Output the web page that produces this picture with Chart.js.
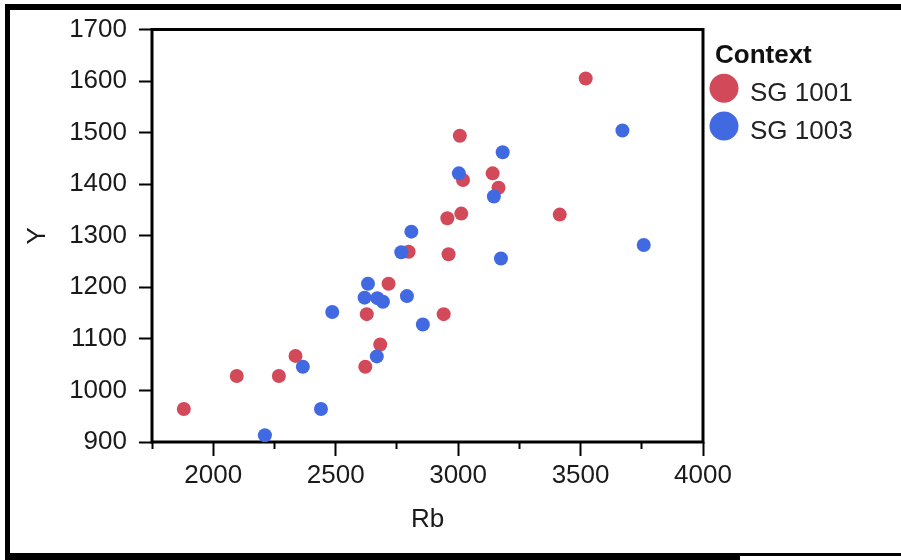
<!DOCTYPE html>
<html>
<head>
<meta charset="utf-8">
<script src="https://cdn.jsdelivr.net/npm/chart.js@4"></script>
<style>
  html, body { margin: 0; padding: 0; background: #fff; }
</style>
</head>
<body>
<canvas id="myChart" width="901" height="560"></canvas>
<script>
// values
const contexts = ['SG 1001', 'SG 1003'];
const contextColors = ['#d24a5a', '#4169e1'];

const sg1001Rb = [1880, 2096, 2268, 2336, 2621, 2627, 2682, 2716, 2798, 2941, 2956, 2961, 3007, 3013, 3020, 3141, 3165, 3415, 3521];
const sg1001Y  = [ 964, 1028, 1028, 1067, 1046, 1148, 1089, 1207, 1269, 1148, 1334, 1264, 1494, 1343, 1408, 1421, 1393, 1341, 1605];

const sg1003Rb = [2211, 2366, 2440, 2486, 2618, 2632, 2668, 2670, 2693, 2768, 2791, 2809, 2856, 3003, 3146, 3175, 3182, 3671, 3758];
const sg1003Y  = [ 913, 1046,  964, 1152, 1180, 1207, 1066, 1179, 1172, 1268, 1183, 1308, 1128, 1421, 1376, 1256, 1462, 1504, 1282];

const xTicks = [2000, 2500, 3000, 3500, 4000];
const xMinorTicks = [1750, 2250, 2750, 3250, 3750];
const yTicks = [900, 1000, 1100, 1200, 1300, 1400, 1500, 1600, 1700];

const FONT = "'Liberation Sans', Arial, sans-serif";
Chart.defaults.font.family = FONT;

function toPoints(xs, ys) {
    return xs.map((x, i) => ({x: x, y: ys[i]}));
}

// white page with the thick frame round it
const pageFrame = {
    id: 'pageFrame',
    beforeDraw(chart) {
        const ctx = chart.ctx, w = chart.width;
        ctx.save();
        ctx.fillStyle = '#fff';
        ctx.fillRect(0, 0, w, chart.height);
        ctx.fillStyle = '#000';
        ctx.fillRect(5, 4, w - 5, 6);
        ctx.fillRect(5, 4, 5, 555);
        ctx.fillRect(5, 553, 735, 7);
        ctx.fillRect(740, 553, w - 740, 3);
        ctx.restore();
    }
};

// box round the plot area
const plotBox = {
    id: 'plotBox',
    beforeDatasetsDraw(chart) {
        const a = chart.chartArea, ctx = chart.ctx;
        ctx.save();
        ctx.strokeStyle = '#000';
        ctx.lineWidth = 3;
        ctx.strokeRect(a.left, a.top, a.right - a.left, a.bottom - a.top);
        ctx.restore();
    }
};

// legend with a title, drawn from the datasets
const contextLegend = {
    id: 'contextLegend',
    afterDraw(chart) {
        const ctx = chart.ctx;
        const left = chart.chartArea.right + 12;
        ctx.save();
        ctx.textBaseline = 'alphabetic';
        ctx.textAlign = 'left';
        ctx.fillStyle = '#111';
        ctx.font = 'bold 26px ' + FONT;
        ctx.fillText('Context', left, 63);
        chart.data.datasets.forEach((ds, i) => {
            const cy = 88.3 + i * 37.7;
            ctx.beginPath();
            ctx.arc(left + 9, cy, 14.5, 0, Math.PI * 2);
            ctx.fillStyle = ds.backgroundColor;
            ctx.fill();
            ctx.fillStyle = '#222';
            ctx.font = '26px ' + FONT;
            ctx.fillText(ds.label, left + 35, cy + 12.7);
        });
        ctx.restore();
    }
};

const plain = v => String(v);

const ctx = document.getElementById('myChart').getContext('2d');

const myChart = new Chart(ctx, {
    type: 'scatter',
    data: {
        datasets: [{
            label: contexts[0],
            data: toPoints(sg1001Rb, sg1001Y),
            backgroundColor: contextColors[0],
            borderColor: contextColors[0],
            borderWidth: 0,
            pointRadius: 7,
            xAxisID: 'x',
            yAxisID: 'y',
            order: 1
        }, {
            label: contexts[1],
            data: toPoints(sg1003Rb, sg1003Y),
            backgroundColor: contextColors[1],
            borderColor: contextColors[1],
            borderWidth: 0,
            pointRadius: 7,
            xAxisID: 'x',
            yAxisID: 'y',
            order: 0
        }]
    },
    plugins: [pageFrame, plotBox, contextLegend],
    options: {
        responsive: false,
        animation: false,
        layout: {
            padding: {left: 12, top: 29.5, right: 198, bottom: 0}
        },
        plugins: {
            legend: {display: false},
            tooltip: {enabled: false}
        },
        scales: {
            x: {
                type: 'linear',
                position: 'bottom',
                min: 1750,
                max: 4000,
                weight: 1,
                afterBuildTicks: s => { s.ticks = xTicks.map(v => ({value: v})); },
                afterFit: s => { s.height = 118; },
                grid: {drawOnChartArea: false, tickLength: 14, tickColor: '#000', tickWidth: 2},
                border: {display: false},
                ticks: {color: '#1a1a1a', font: {size: 26}, padding: 4, maxRotation: 0, autoSkip: false, callback: plain},
                title: {display: true, text: 'Rb', color: '#1a1a1a', font: {size: 26}, padding: {top: 0, bottom: 25}}
            },
            xMinor: {
                type: 'linear',
                position: 'bottom',
                min: 1750,
                max: 4000,
                weight: 0,
                afterBuildTicks: s => { s.ticks = xMinorTicks.map(v => ({value: v})); },
                afterFit: s => { s.height = 0; },
                grid: {drawOnChartArea: false, tickLength: 7, tickColor: '#000', tickWidth: 2},
                border: {display: false},
                ticks: {display: false}
            },
            y: {
                type: 'linear',
                min: 900,
                max: 1700,
                afterBuildTicks: s => { s.ticks = yTicks.map(v => ({value: v})); },
                afterFit: s => { s.width = 140; },
                grid: {drawOnChartArea: false, tickLength: 13, tickColor: '#000', tickWidth: 2},
                border: {display: false},
                ticks: {color: '#1a1a1a', font: {size: 26}, padding: 12, callback: plain},
                title: {display: true, text: 'Y', color: '#1a1a1a', font: {size: 26}, padding: {top: 10, bottom: 0}}
            }
        }
    }
});
</script>
</body>
</html>
